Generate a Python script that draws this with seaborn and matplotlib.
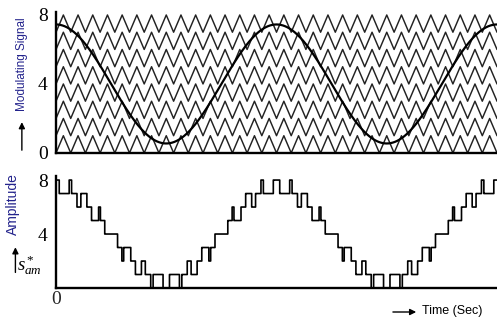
"""
Phase-disposition multilevel PWM: modulating sinusoid over eight stacked
triangular carriers (top) and the resulting stepped output s*_am (bottom).
"""

import matplotlib
matplotlib.use("Agg")
import matplotlib.pyplot as plt
import numpy as np
import pandas as pd
import seaborn as sns

# Values
MOD_OFFSET = 4.0        # centre of the modulating sinusoid
MOD_AMPLITUDE = 3.45    # peaks near 7.45, troughs near 0.55
MOD_FREQ = 50.0         # Hz -> two full cycles across the axis
CARRIER_FREQ = 750.0    # Hz -> ~15 carrier periods per modulating period
N_LEVELS = 8            # carriers stacked from 0 to 8
T_END = 0.04            # s

top_yticks = [0, 4, 8]
bottom_yticks = [4, 8]
bottom_xticks = [0]

# Colours
C_LINE = "black"
C_CARRIER = "#222222"
C_LABEL = "#23238c"

sns.set_style("white")
plt.rcParams["font.family"] = ["Liberation Sans", "DejaVu Sans"]
plt.rcParams["mathtext.fontset"] = "custom"
plt.rcParams["mathtext.it"] = "Liberation Serif:italic"
plt.rcParams["mathtext.rm"] = "Liberation Serif"

SERIF = ["Liberation Serif", "DejaVu Serif"]


def _carriers() -> pd.DataFrame:
    half = 0.5 / CARRIER_FREQ
    tv = np.arange(0, T_END + half, half)
    base = np.arange(len(tv)) % 2          # 0 at valleys, 1 at peaks
    rows = []
    for k in range(N_LEVELS):
        rows.append(pd.DataFrame({"t": tv, "v": base + k, "carrier": k}))
    return pd.concat(rows, ignore_index=True), tv, base


def _style_axis(ax, yticks, ytop):
    ax.set_xlim(0, T_END)
    ax.set_ylim(0, ytop)
    sns.despine(ax=ax, top=True, right=True)
    for side in ("left", "bottom"):
        ax.spines[side].set_linewidth(1.7)
        ax.spines[side].set_color("black")
    ax.set_yticks(yticks)
    ax.set_yticklabels([str(v) for v in yticks], fontfamily=SERIF, fontsize=14)
    ax.tick_params(axis="y", direction="out", length=4, width=1.2, pad=2, colors="black")
    ax.set_xlabel("")
    ax.set_ylabel("")


def main() -> None:
    fig = plt.figure(figsize=(4.97, 3.2), dpi=100)
    ax_top = fig.add_axes([0.1127, 0.522, 0.8873, 0.442])
    ax_bot = fig.add_axes([0.1127, 0.100, 0.8873, 0.350])

    carriers, tv, base = _carriers()
    t = np.linspace(0, T_END, 20001)
    mod = MOD_OFFSET + MOD_AMPLITUDE * np.cos(2 * np.pi * MOD_FREQ * t)
    tri = np.interp(t, tv, base)
    out = sum((mod > tri + k).astype(int) for k in range(N_LEVELS))

    # Top: carriers + modulating signal
    sns.lineplot(data=carriers, x="t", y="v", units="carrier", estimator=None,
                 color=C_CARRIER, linewidth=1.05, ax=ax_top, legend=False)
    sns.lineplot(x=t, y=mod, color=C_LINE, linewidth=1.6, ax=ax_top)
    _style_axis(ax_top, top_yticks, 8.2)
    ax_top.set_xticks([])

    # Bottom: stepped multilevel output
    sns.lineplot(x=t, y=out, color=C_LINE, linewidth=1.2, drawstyle="steps-post",
                 ax=ax_bot)
    _style_axis(ax_bot, bottom_yticks, 8.3)
    ax_bot.set_xticks(bottom_xticks)
    ax_bot.set_xticklabels([str(v) for v in bottom_xticks], fontfamily=SERIF, fontsize=14)
    ax_bot.tick_params(axis="x", length=0, pad=2)

    # Axis captions with arrows
    arrow = dict(arrowstyle="-|>", color="black", lw=1.0, mutation_scale=9)
    fig.text(0.044, 0.80, "Modulating Signal", rotation=90, ha="center", va="center",
             fontsize=8.5, color=C_LABEL)
    fig.add_artist(matplotlib.patches.FancyArrowPatch(
        (0.044, 0.522), (0.044, 0.627), transform=fig.transFigure, **arrow))

    fig.text(0.027, 0.362, "Amplitude", rotation=90, ha="center", va="center",
             fontsize=10, color=C_LABEL)
    fig.add_artist(matplotlib.patches.FancyArrowPatch(
        (0.031, 0.140), (0.031, 0.236), transform=fig.transFigure, **arrow))
    fig.text(0.034, 0.172, r"$s^*_{am}$", ha="left", va="center", fontsize=13.5,
             color="black")

    fig.add_artist(matplotlib.patches.FancyArrowPatch(
        (0.785, 0.025), (0.843, 0.025), transform=fig.transFigure, **arrow))
    fig.text(0.850, 0.027, "Time (Sec)", ha="left", va="center", fontsize=9,
             color="black")

    fig.savefig("out.png", dpi=100)
    plt.close(fig)


if __name__ == "__main__":
    main()
